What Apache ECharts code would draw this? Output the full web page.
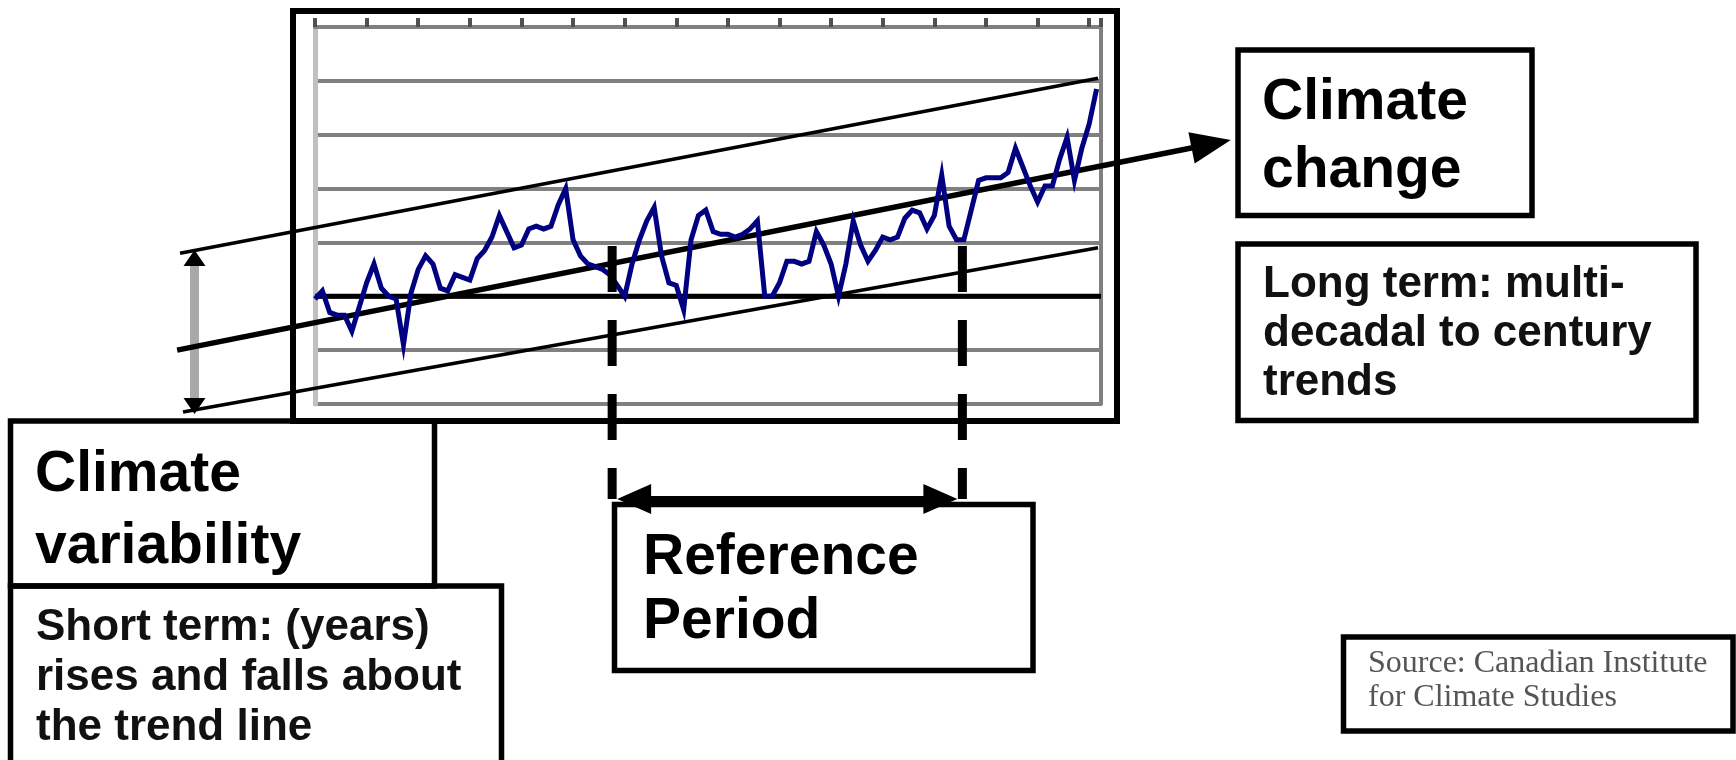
<!DOCTYPE html>
<html>
<head>
<meta charset="utf-8">
<script src="https://cdn.jsdelivr.net/npm/echarts@6/dist/echarts.min.js"></script>
<style>
html,body{margin:0;padding:0;background:#fff;}
#c{width:1736px;height:760px;}
</style>
</head>
<body>
<div id="c"></div>
<script>
// ---------- data ----------
const years = [
  1890,1891,1892,1893,1894,1895,1896,1897,1898,1899,
  1900,1901,1902,1903,1904,1905,1906,1907,1908,1909,
  1910,1911,1912,1913,1914,1915,1916,1917,1918,1919,
  1920,1921,1922,1923,1924,1925,1926,1927,1928,1929,
  1930,1931,1932,1933,1934,1935,1936,1937,1938,1939,
  1940,1941,1942,1943,1944,1945,1946,1947,1948,1949,
  1950,1951,1952,1953,1954,1955,1956,1957,1958,1959,
  1960,1961,1962,1963,1964,1965,1966,1967,1968,1969,
  1970,1971,1972,1973,1974,1975,1976,1977,1978,1979,
  1980,1981,1982,1983,1984,1985,1986,1987,1988,1989,
  1990,1991,1992,1993,1994,1995,1996
];
const anomaly = [
  -0.01, 0.02,-0.06,-0.07,-0.07,-0.13,-0.04, 0.05, 0.12, 0.03,
   0.00,-0.01,-0.18, 0.01, 0.10, 0.15, 0.12, 0.03, 0.02, 0.08,
   0.07, 0.06, 0.14, 0.17, 0.22, 0.30, 0.24, 0.18, 0.19, 0.25,
   0.26, 0.25, 0.26, 0.34, 0.40, 0.21, 0.15, 0.12, 0.11, 0.10,
   0.08, 0.04, 0.00, 0.12, 0.21, 0.28, 0.33, 0.15, 0.05, 0.04,
  -0.05, 0.21, 0.30, 0.32, 0.24, 0.23, 0.23, 0.22, 0.23, 0.25,
   0.28, 0.00, 0.00, 0.05, 0.13, 0.13, 0.12, 0.13, 0.24, 0.19,
   0.12, 0.00, 0.12, 0.28, 0.19, 0.13, 0.17, 0.22, 0.21, 0.22,
   0.29, 0.32, 0.31, 0.25, 0.30, 0.45, 0.26, 0.21, 0.21, 0.32,
   0.43, 0.44, 0.44, 0.44, 0.46, 0.55, 0.48, 0.41, 0.35, 0.41,
   0.41, 0.51, 0.59, 0.43, 0.55, 0.64, 0.77
];
// axes
const xMin = 1890, xMax = 1996.6, xTickStep = 7;
const yMin = -0.4, yMax = 1.0, yStep = 0.2;
// trend band lines [year, value]
const upperBand  = [[1871.7, 0.16], [1996.2, 0.81]];
const trendLine  = [[1871.3, -0.20], [2014.2, 0.58]];
const lowerBand  = [[1872.1, -0.43], [1996.2, 0.18]];
// variability arrow (year, top value, bottom value)
const variabilityArrow = [[1873.66, 0.172], [1873.66, -0.437]];
// reference period
const referencePeriod = [1930.3, 1977.8];
const referenceDashTop = 0.187;
const referenceArrowValue = -0.753;
// texts
const variabilityTitle = ['Climate', 'variability'];
const variabilityNote = ['Short term: (years)', 'rises and falls about', 'the trend line'];
const referenceTitle = ['Reference', 'Period'];
const changeTitle = ['Climate', 'change'];
const changeNote = ['Long term: multi-', 'decadal to century', 'trends'];
const sourceNote = ['Source: Canadian Institute', 'for Climate Studies'];

// ---------- chart ----------
const chart = echarts.init(document.getElementById('c'), null, {renderer: 'canvas'});
chart.setOption({
  animation: false,
  backgroundColor: '#ffffff',
  grid: {left: 315, right: 635, top: 27, bottom: 356, containLabel: false},
  xAxis: {
    type: 'value', position: 'top', min: xMin, max: xMax, interval: xTickStep,
    axisLine: {show: true, onZero: false, lineStyle: {color: '#808080', width: 4}},
    axisTick: {show: true, inside: false, length: 9, lineStyle: {color: '#505050', width: 4}},
    axisLabel: {show: false},
    splitLine: {show: false}
  },
  yAxis: [
    {
      type: 'value', min: yMin, max: yMax, interval: yStep, position: 'left',
      axisLine: {show: true, onZero: false, lineStyle: {color: '#c0c0c0', width: 5}},
      axisTick: {show: false}, axisLabel: {show: false},
      splitLine: {show: true, lineStyle: {color: '#808080', width: 4}}
    },
    {
      type: 'value', min: yMin, max: yMax, interval: yStep, position: 'right',
      axisLine: {show: true, onZero: false, lineStyle: {color: '#808080', width: 4}},
      axisTick: {show: false}, axisLabel: {show: false}, splitLine: {show: false}
    }
  ],
  series: [
    {
      type: 'line', name: 'zero', z: 1, silent: true, symbol: 'none',
      data: [[xMin, 0], [xMax, 0]],
      lineStyle: {color: '#000000', width: 5}
    },
    {
      type: 'line', name: 'anomaly', z: 4, symbol: 'none', showSymbol: false,
      data: years.map((y, i) => [y, anomaly[i]]),
      lineStyle: {color: '#000080', width: 5, join: 'miter'}
    }
  ]
});

const px = p => chart.convertToPixel({gridIndex: 0}, p);

function head(tip, from, len, half, z) {
  const dx = tip[0] - from[0], dy = tip[1] - from[1];
  const L = Math.hypot(dx, dy), ux = dx / L, uy = dy / L;
  const bx = tip[0] - ux * len, by = tip[1] - uy * len;
  return {type: 'polygon', z: z,
    shape: {points: [[tip[0], tip[1]], [bx - uy * half, by + ux * half], [bx + uy * half, by - ux * half]]},
    style: {fill: '#000'}};
}
function back(tip, from, d) {
  const dx = tip[0] - from[0], dy = tip[1] - from[1];
  const L = Math.hypot(dx, dy);
  return [tip[0] - dx / L * d, tip[1] - dy / L * d];
}
function line(a, b, w, color, z, dash) {
  const st = {stroke: color, lineWidth: w};
  if (dash) st.lineDash = dash;
  return {type: 'line', z: z, shape: {x1: a[0], y1: a[1], x2: b[0], y2: b[1]}, style: st};
}
function box(x, y, w, h) {
  return {type: 'rect', z: 6, shape: {x: x, y: y, width: w, height: h},
    style: {fill: 'none', stroke: '#000', lineWidth: 5.5}};
}
const SANS = '"Liberation Sans", Arial, Helvetica, sans-serif';
function texts(lines, x, baseline0, step, size, weight, color, family) {
  return lines.map((t, i) => ({
    type: 'text', z: 7,
    style: {text: t, x: x, y: baseline0 + i * step - 0.35 * size,
      font: weight + ' ' + size + 'px ' + family, fill: color,
      align: 'left', verticalAlign: 'middle'}
  }));
}

const g = [];
// outer frame
g.push({type: 'rect', z: 6, shape: {x: 293, y: 11, width: 824, height: 410},
  style: {fill: 'none', stroke: '#000', lineWidth: 6}});
// boxes
g.push(box(10.5, 421, 424, 165));
g.push(box(10.5, 586, 491, 185));
g.push(box(614.5, 504.5, 418.5, 166));
g.push(box(1238, 50, 294, 165.5));
g.push(box(1238, 244, 458, 176.5));
g.push(box(1343.5, 637, 389.5, 94));

// variability arrow (gray with black heads)
const vTop = px(variabilityArrow[0]), vBot = px(variabilityArrow[1]);
g.push(line(back(vTop, vBot, 12), back(vBot, vTop, 12), 9, '#a9a9a9', 2));
g.push(head(vTop, vBot, 16, 11, 2));
g.push(head(vBot, vTop, 16, 11, 2));

// trend lines
const u0 = px(upperBand[0]), u1 = px(upperBand[1]);
const m0 = px(trendLine[0]), m1 = px(trendLine[1]);
const l0 = px(lowerBand[0]), l1 = px(lowerBand[1]);
g.push(line(u0, u1, 3.5, '#000', 3));
g.push(line(l0, l1, 3.5, '#000', 3));
g.push(line(m0, back(m1, m0, 30), 5.5, '#000', 3));
g.push(head(m1, m0, 40, 16, 3));

// reference period dashed verticals and double arrow
referencePeriod.forEach(yr => {
  const a = px([yr, referenceDashTop]), b = px([yr, referenceArrowValue]);
  g.push(line(a, b, 9, '#000', 6, [46, 28]));
});
const rA = px([referencePeriod[0], referenceArrowValue]);
const rB = px([referencePeriod[1], referenceArrowValue]);
const rA2 = [rA[0] + 5, rA[1]], rB2 = [rB[0] - 5, rB[1]];
g.push(line(back(rA2, rB2, 20), back(rB2, rA2, 20), 6, '#000', 6));
g.push(head(rA2, rB2, 34, 15, 6));
g.push(head(rB2, rA2, 34, 15, 6));

// texts
g.push(...texts(variabilityTitle, 35, 495, 72, 57, 'bold', '#000', SANS));
g.push(...texts(variabilityNote, 36, 643, 50, 44, 'bold', '#111', SANS));
g.push(...texts(referenceTitle, 643, 578, 64, 57, 'bold', '#000', SANS));
g.push(...texts(changeTitle, 1262, 123, 68, 57, 'bold', '#000', SANS));
g.push(...texts(changeNote, 1263, 300, 49, 44, 'bold', '#111', SANS));
g.push(...texts(sourceNote, 1368, 675, 34, 32, 'normal', '#555', '"Liberation Serif", "Times New Roman", serif'));

chart.setOption({graphic: {elements: g}});
</script>
</body>
</html>
